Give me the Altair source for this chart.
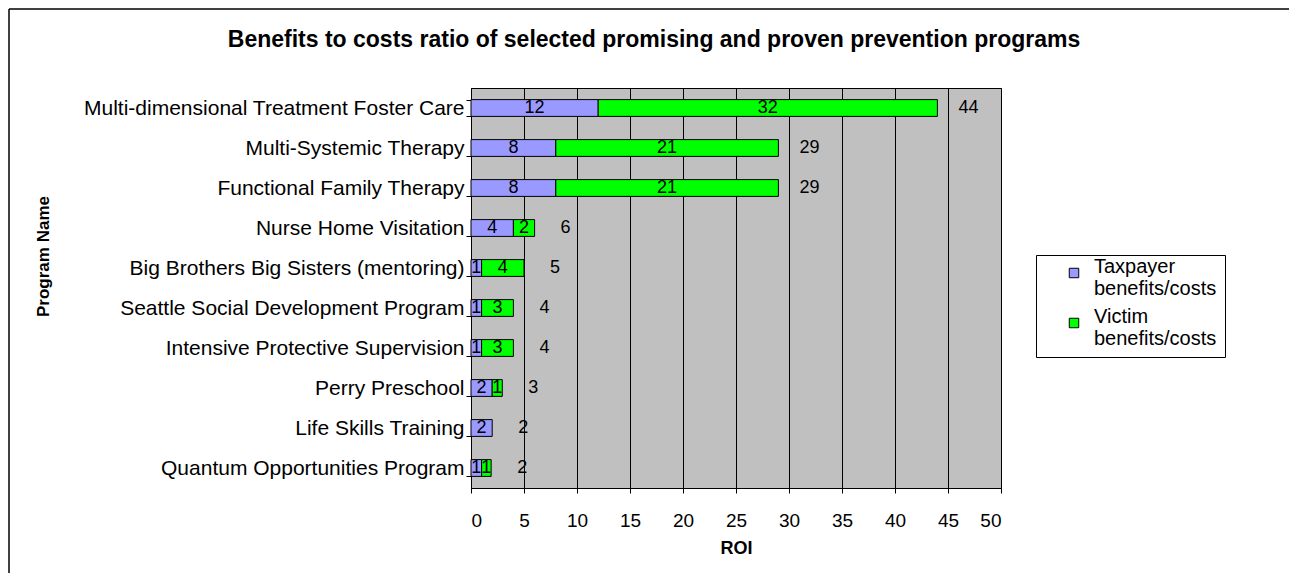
import altair as alt
import pandas as pd

programs = [
    "Multi-dimensional Treatment Foster Care",
    "Multi-Systemic Therapy",
    "Functional Family Therapy",
    "Nurse Home Visitation",
    "Big Brothers Big Sisters (mentoring)",
    "Seattle Social Development Program",
    "Intensive Protective Supervision",
    "Perry Preschool",
    "Life Skills Training",
    "Quantum Opportunities Program",
]
taxpayer = [12, 8, 8, 4, 1, 1, 1, 2, 2, 1.0]
victim = [32, 21, 21, 2, 4, 3, 3, 0.95, 0, 0.9]
totals = [44, 29, 29, 6, 5, 4, 4, 3, 2, 2]
series = ["Taxpayer benefits/costs", "Victim benefits/costs"]
colors = ["#9999FF", "#00FF00"]
x_ticks = [0, 5, 10, 15, 20, 25, 30, 35, 40, 45, 50]

rows = []
for p, t, v in zip(programs, taxpayer, victim):
    rows.append(dict(program=p, series=series[0], start=0, end=t, label=str(round(t))))
    if v > 0:
        rows.append(dict(program=p, series=series[1], start=t, end=t + v, label=str(round(v))))
seg = pd.DataFrame(rows)
seg["mid"] = (seg["start"] + seg["end"]) / 2
tot = pd.DataFrame(dict(program=programs,
                        end=[t + v for t, v in zip(taxpayer, victim)],
                        total=[str(x) for x in totals]))

FONT = "Liberation Sans"

yenc = alt.Y("program:N", sort=programs, title="Program Name",
             scale=alt.Scale(paddingInner=0.58, paddingOuter=0.29),
             axis=alt.Axis(labelFontSize=21, labelFont=FONT, labelColor="black",
                           labelLimit=600, labelPadding=2, tickSize=5,
                           tickColor="black", domainColor="black",
                           tickBand="extent",
                           titleFont=FONT, titleFontSize=17, titleFontWeight="bold",
                           titleColor="black", titleX=-428, titleY=168,
                           titleBaseline="middle"))
xscale = alt.Scale(domain=[0, 50], nice=False)
xaxis = alt.Axis(values=x_ticks, labelFontSize=19, labelFont=FONT, labelColor="black",
                 labelPadding=18, tickSize=5, tickColor="black", domainColor="black",
                 grid=True, gridColor="black", gridOpacity=1,
                 title="ROI", titleFont=FONT, titleFontSize=18, titleFontWeight="bold",
                 titleColor="black", titlePadding=9)

one = pd.DataFrame({"a": [0]})
frame_top = alt.Chart(one).mark_rule(color="black", strokeWidth=1.5).encode(
    x=alt.value(-462), x2=alt.value(818), y=alt.value(-79))
frame_left = alt.Chart(one).mark_rule(color="black", strokeWidth=1.5).encode(
    x=alt.value(-462), y=alt.value(-79), y2=alt.value(485))

bars = alt.Chart(seg).mark_bar(stroke="black", strokeWidth=1).encode(
    y=yenc,
    x=alt.X("start:Q", scale=xscale, axis=xaxis),
    x2="end:Q",
    color=alt.Color("series:N", title=None,
                    scale=alt.Scale(domain=series, range=colors),
                    legend=alt.Legend(orient="none", legendX=565, legendY=167,
                                      strokeColor="black", fillColor="white",
                                      padding=8, labelFontSize=20, labelFont=FONT,
                                      labelColor="black", labelLimit=400,
                                      labelExpr="split(datum.label, ' ')",
                                      labelBaseline="alphabetic",
                                      symbolType="square", symbolSize=90,
                                      symbolOffset=20, labelOffset=10,
                                      symbolStrokeColor="black", symbolStrokeWidth=1,
                                      rowPadding=8)),
)

seg_text = alt.Chart(seg).mark_text(font=FONT, fontSize=18, color="black",
                                    baseline="middle").encode(
    y=alt.Y("program:N", sort=programs),
    x=alt.X("mid:Q", scale=xscale),
    text="label:N",
)

tot_text = alt.Chart(tot).mark_text(font=FONT, fontSize=18, color="black",
                                    baseline="middle", dx=31).encode(
    y=alt.Y("program:N", sort=programs),
    x=alt.X("end:Q", scale=xscale),
    text="total:N",
)

chart = alt.layer(frame_top, frame_left, bars, seg_text, tot_text).properties(
    width=530, height=400, padding=0, background="white",
    title=alt.TitleParams(
        "Benefits to costs ratio of selected promising and proven prevention programs",
        font=FONT, fontSize=23, fontWeight="bold", color="black",
        anchor="middle", frame="group", dx=-82, offset=-44),
).configure_view(stroke="black", strokeWidth=1, fill="#C0C0C0")

chart.save("out.html", embed_options={"renderer": "svg", "actions": False})
